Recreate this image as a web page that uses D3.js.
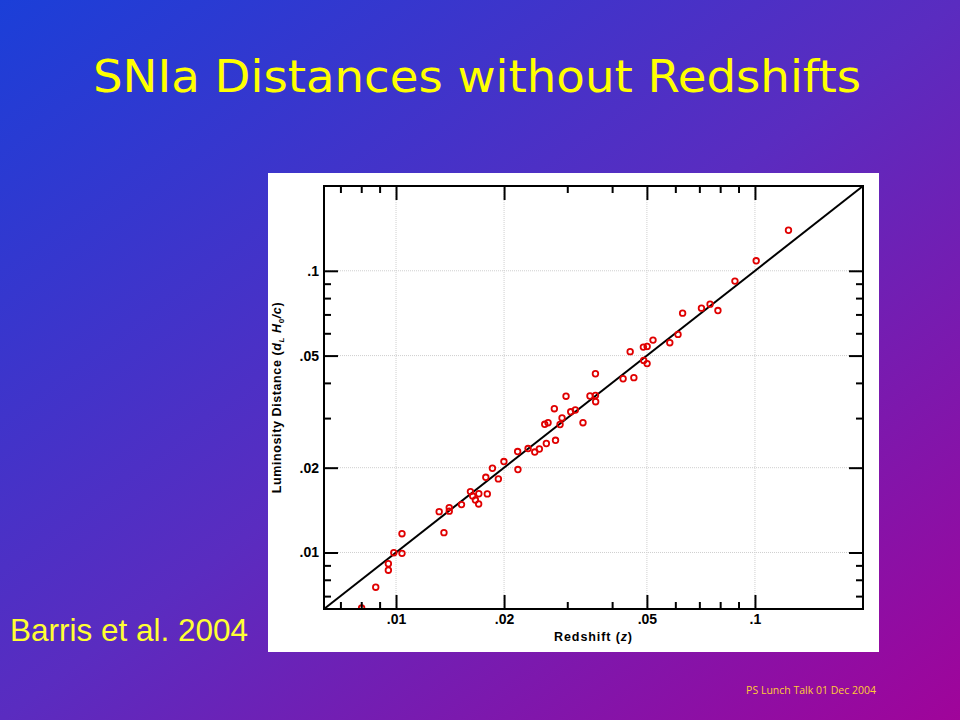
<!DOCTYPE html>
<html>
<head>
<meta charset="utf-8">
<script src="https://cdn.jsdelivr.net/npm/d3@7"></script>
<style>
  html, body { margin: 0; padding: 0; }
  body { width: 960px; height: 720px; overflow: hidden; }
</style>
</head>
<body>
<div id="chart"></div>
<script>
// redshift z and luminosity distance dL*H0/c
var redshift = [0.00802, 0.00878, 0.00952, 0.00952, 0.00986, 0.01039, 0.01039, 0.01319, 0.01360, 0.01407,
  0.01407, 0.01522, 0.01612, 0.01635, 0.01664, 0.01699, 0.01701, 0.01796, 0.01779, 0.01856,
  0.01928, 0.01998, 0.02182, 0.02186, 0.02333, 0.02435, 0.02508, 0.02623, 0.02782, 0.02596,
  0.02652, 0.02761, 0.02864, 0.02901, 0.02976, 0.03067, 0.03159, 0.03318, 0.03470, 0.03594,
  0.03599, 0.03594, 0.04292, 0.04599, 0.04491, 0.04888, 0.05008, 0.05200, 0.04898, 0.05006,
  0.05791, 0.06105, 0.06287, 0.07095, 0.07498, 0.07886, 0.08795, 0.1008, 0.1240]
var distance = [0.00635, 0.00753, 0.00912, 0.00865, 0.00998, 0.00993, 0.01166, 0.01396, 0.01176, 0.01443,
  0.01402, 0.01479, 0.01645, 0.01586, 0.01535, 0.01487, 0.01616, 0.01614, 0.01849, 0.01991,
  0.01825, 0.02103, 0.02282, 0.01970, 0.02339, 0.02273, 0.02330, 0.02437, 0.02502, 0.02851,
  0.02889, 0.03239, 0.02847, 0.03003, 0.03588, 0.03158, 0.03205, 0.02889, 0.03594, 0.03609,
  0.03430, 0.04311, 0.04138, 0.04175, 0.05163, 0.05360, 0.05391, 0.05675, 0.04807, 0.04683,
  0.05556, 0.05946, 0.07073, 0.07369, 0.07614, 0.07226, 0.09193, 0.1085, 0.1393]

var axisRange = [0.0063, 0.2]
var majorTicks = [0.01, 0.02, 0.05, 0.1]
var majorLabels = [".01", ".02", ".05", ".1"]
var minorTicks = [0.007, 0.008, 0.009, 0.03, 0.04, 0.06, 0.07, 0.08, 0.09]

var W = 960, H = 720
var plot = {left: 324, right: 863, top: 186, bottom: 609}

var svg = d3.select("#chart").append("svg")
  .attr("width", W)
  .attr("height", H)

var defs = svg.append("defs")
var grad = defs.append("linearGradient")
  .attr("id", "bg")
  .attr("x1", 0).attr("y1", 0).attr("x2", 1).attr("y2", 1)
grad.append("stop").attr("offset", "0%").attr("stop-color", "#1b3fd8")
grad.append("stop").attr("offset", "50%").attr("stop-color", "#5a2cc0")
grad.append("stop").attr("offset", "100%").attr("stop-color", "#a0049a")

defs.append("clipPath").attr("id", "plotclip")
  .append("rect")
  .attr("x", plot.left).attr("y", plot.top)
  .attr("width", plot.right - plot.left)
  .attr("height", plot.bottom - plot.top)

svg.append("rect")
  .attr("width", W).attr("height", H)
  .attr("fill", "url(#bg)")

// slide title
svg.append("text")
  .attr("x", 477).attr("y", 92)
  .attr("text-anchor", "middle")
  .attr("textLength", 768)
  .attr("lengthAdjust", "spacingAndGlyphs")
  .style("font-family", "'Comic Sans MS', 'DejaVu Sans', sans-serif")
  .style("font-size", "44px")
  .attr("fill", "#ffff00")
  .text("SNIa Distances without Redshifts")

svg.append("text")
  .attr("x", 10).attr("y", 641)
  .style("font-family", "'Liberation Sans', Arial, sans-serif")
  .style("font-size", "31.5px")
  .attr("fill", "#ffff33")
  .text("Barris et al. 2004")

svg.append("text")
  .attr("x", 876).attr("y", 694)
  .attr("text-anchor", "end")
  .style("font-family", "'Open Sans', sans-serif")
  .style("font-size", "10.5px")
  .attr("fill", "#ffcc33")
  .text("PS Lunch Talk 01 Dec 2004")

// white panel behind the figure
svg.append("rect")
  .attr("x", 268).attr("y", 173)
  .attr("width", 611).attr("height", 479)
  .attr("fill", "#ffffff")

var x = d3.scaleLog().domain(axisRange).range([plot.left, plot.right])
var y = d3.scaleLog().domain(axisRange).range([plot.bottom, plot.top])

// dotted grid at the labelled values
var grid = svg.append("g")
grid.selectAll(".gx").data(majorTicks).enter().append("line")
  .attr("x1", d => x(d)).attr("x2", d => x(d))
  .attr("y1", plot.top).attr("y2", plot.bottom)
grid.selectAll(".gy").data(majorTicks).enter().append("line")
  .attr("y1", d => y(d)).attr("y2", d => y(d))
  .attr("x1", plot.left).attr("x2", plot.right)
grid.selectAll("line")
  .attr("stroke", "#cfcfcf")
  .attr("stroke-width", 1)
  .attr("stroke-dasharray", "1,1")

// y = x line
var line = d3.line().x(d => x(d)).y(d => y(d))
svg.append("path")
  .attr("d", line(axisRange))
  .attr("fill", "none")
  .attr("stroke", "#000")
  .attr("stroke-width", 2)

svg.append("g")
  .attr("clip-path", "url(#plotclip)")
  .selectAll("circle")
  .data(redshift)
  .enter()
  .append("circle")
  .attr("cx", d => x(d))
  .attr("cy", (d, i) => y(distance[i]))
  .attr("r", 2.8)
  .attr("fill", "none")
  .attr("stroke", "#e00000")
  .attr("stroke-width", 1.8)

// axes: ticks point inward on all four sides
function fmt(d) { return majorLabels[majorTicks.indexOf(d)] }

function addAxis(axis, tx, ty, labelled) {
  var g = svg.append("g")
    .attr("transform", "translate(" + tx + "," + ty + ")")
    .call(axis)
  g.select(".domain").remove()
  g.selectAll("line").attr("stroke", "#000").attr("stroke-width", 2)
  if (!labelled) g.selectAll("text").remove()
  g.selectAll("text")
    .style("font-family", "'Liberation Sans', Arial, sans-serif")
    .style("font-weight", "bold")
    .style("font-size", "14px")
    .attr("fill", "#000")
  return g
}

addAxis(d3.axisBottom(x).tickValues(majorTicks).tickSize(-14).tickPadding(5).tickFormat(fmt), 0, plot.bottom, true)
addAxis(d3.axisBottom(x).tickValues(minorTicks).tickSize(-7).tickFormat(""), 0, plot.bottom, false)
addAxis(d3.axisTop(x).tickValues(majorTicks).tickSize(-14), 0, plot.top, false)
addAxis(d3.axisTop(x).tickValues(minorTicks).tickSize(-7), 0, plot.top, false)
addAxis(d3.axisLeft(y).tickValues(majorTicks).tickSize(-14).tickPadding(5).tickFormat(fmt), plot.left, 0, true)
addAxis(d3.axisLeft(y).tickValues(minorTicks).tickSize(-7).tickFormat(""), plot.left, 0, false)
addAxis(d3.axisRight(y).tickValues(majorTicks).tickSize(-14), plot.right, 0, false)
addAxis(d3.axisRight(y).tickValues(minorTicks).tickSize(-7), plot.right, 0, false)

// frame
svg.append("rect")
  .attr("x", plot.left).attr("y", plot.top)
  .attr("width", plot.right - plot.left)
  .attr("height", plot.bottom - plot.top)
  .attr("fill", "none")
  .attr("stroke", "#000")
  .attr("stroke-width", 2)

// axis titles
var labelFont = "'Liberation Sans', Arial, sans-serif"
var xt = svg.append("text")
  .attr("x", (plot.left + plot.right) / 2).attr("y", 641)
  .attr("text-anchor", "middle")
  .style("font-family", labelFont)
  .style("font-weight", "bold")
  .style("font-size", "12.5px")
  .style("letter-spacing", "0.9px")
xt.append("tspan").text("Redshift (")
xt.append("tspan").style("font-style", "italic").text("z")
xt.append("tspan").text(")")

var yt = svg.append("text")
  .attr("transform", "translate(281," + ((plot.top + plot.bottom) / 2) + ") rotate(-90)")
  .attr("text-anchor", "middle")
  .style("font-family", labelFont)
  .style("font-weight", "bold")
  .style("font-size", "12.5px")
  .style("letter-spacing", "0.6px")
yt.append("tspan").text("Luminosity Distance (")
yt.append("tspan").style("font-style", "italic").text("d")
yt.append("tspan").style("font-style", "italic").style("font-size", "8px").attr("dy", 3).text("L")
yt.append("tspan").style("font-style", "italic").attr("dy", -3).text(" H")
yt.append("tspan").style("font-size", "8px").attr("dy", 3).text("0")
yt.append("tspan").style("font-style", "italic").attr("dy", -3).text("/c")
yt.append("tspan").text(")")
</script>
</body>
</html>
